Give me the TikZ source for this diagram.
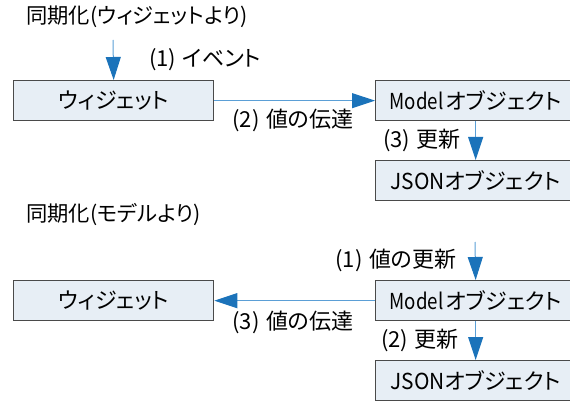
\documentclass[tikz,border=0pt]{standalone}
\usepackage{fontspec}
\setmainfont{Noto Sans CJK JP}[RawFeature=+palt]
\usetikzlibrary{arrows.meta}
\definecolor{boxfill}{HTML}{E7EEF5}
\definecolor{boxline}{HTML}{4A4A4A}
\definecolor{arrline}{HTML}{5B9FD6}
\definecolor{arrhead}{HTML}{1B73BA}
\newcommand{\gp}{\hspace{0.3em}}
\newcommand{\mdl}{\scalebox{0.85}[1]{Model}\hspace{0.12em}}
\newcommand{\jsn}{\scalebox{0.95}[1]{JSON}}
\tikzset{
  box/.style={draw=boxline, line width=1.3pt, fill=boxfill, minimum width=200pt, minimum height=40pt, inner sep=0pt, font=\fontsize{22}{24}\selectfont, anchor=north west},
  lbl/.style={inner sep=0pt, font=\fontsize{22}{24}\selectfont},
  ttl/.style={inner sep=0pt, font=\fontsize{21.3}{23}\selectfont, anchor=west},
  flow/.style={draw=arrline, line width=1pt, -{Triangle[length=23pt,width=15pt,color=arrhead]}}
}
\begin{document}
\begin{tikzpicture}[x=1pt,y=-1pt]
\useasboundingbox (0,0) rectangle (570,401);
\clip (0,0) rectangle (570,401);
% top section
\node[ttl] (t1) at (26,17) {同期化(ウィジェットより)};
\node[box] (w1) at (13,80) {ウィジェット};
\node[box] (m1) at (375,80) {\mdl オブジェクト};
\node[box] (j1) at (375,160) {\jsn オブジェクト};
\coordinate (s1) at (113,40);
\draw[flow] (s1) -- (w1.north);
\draw[flow] (w1.east) -- (m1.west);
\draw[flow] (m1.south) -- (j1.north);
\node[lbl] (l1) at (205,60) {(1)\gp イベント};
\node[lbl] (l2) at (293,120) {(2)\gp 値の伝達};
\node[lbl] (l3) at (422,140) {(3)\gp 更新};
% bottom section
\node[ttl] (t2) at (26,215) {同期化(モデルより)};
\node[box] (w2) at (13,280) {ウィジェット};
\node[box] (m2) at (375,280) {\mdl オブジェクト};
\node[box] (j2) at (375,360) {\jsn オブジェクト};
\coordinate (s2) at (475,242);
\draw[flow] (s2) -- (m2.north);
\draw[flow] (m2.west) -- (w2.east);
\draw[flow] (m2.south) -- (j2.north);
\node[lbl] (l4) at (396,260) {(1)\gp 値の更新};
\node[lbl] (l5) at (420,340) {(2)\gp 更新};
\node[lbl] (l6) at (293,322) {(3)\gp 値の伝達};
\end{tikzpicture}
\end{document}
